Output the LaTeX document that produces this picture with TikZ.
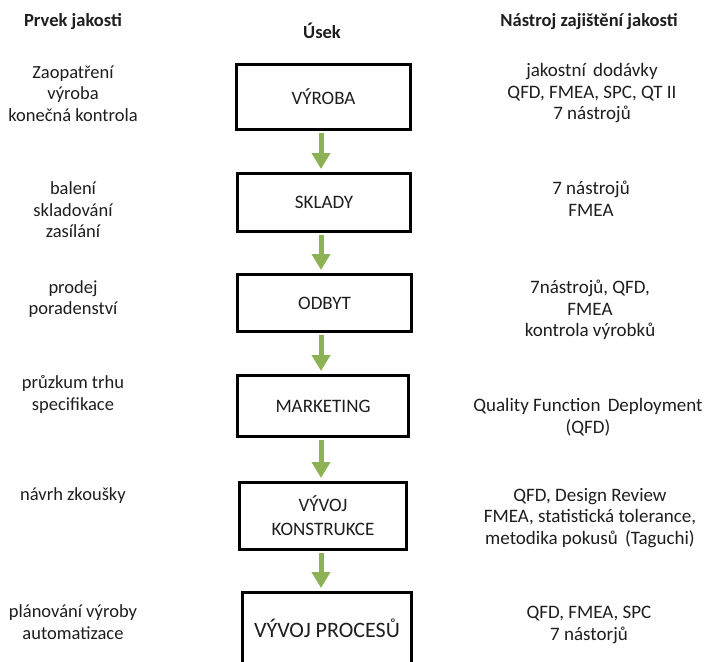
\documentclass[tikz,border=0pt]{standalone}
\usepackage{fontspec}
\setmainfont{Carlito}
\usetikzlibrary{arrows.meta}
\definecolor{flowgreen}{HTML}{8DB255}
\definecolor{ink}{HTML}{1E1E1E}

\begin{document}
\begin{tikzpicture}[x=1pt,y=-1pt,
  stage/.style={draw=black, line width=3pt, fill=white, inner sep=0pt, align=center,
    font=\fontsize{19}{24}\selectfont, text=ink},
  note/.style={align=center, inner sep=0pt, text=ink,
    font=\fontsize{18.5}{21.5}\selectfont},
  tool/.style={note, font=\fontsize{19}{21.5}\selectfont},
  head/.style={align=center, inner sep=0pt, text=ink,
    font=\bfseries\fontsize{18.5}{21.5}\selectfont},
  flow/.style={draw=flowgreen, line width=5pt,
    -{Triangle[width=18pt,length=16pt]}, shorten <=2pt, shorten >=3pt}
]
% page frame
\clip (0,0) rectangle (706,661);
\fill[white] (0,0) rectangle (706,661);

% column headings
\node[head] (hL) at (73,22)  {Prvek jakosti};
\node[head] (hM) at (322,31) {Úsek};
\node[head] (hR) at (589,22) {Nástroj zajištění jakosti};

% the chain of departments
\node[stage, minimum width=174pt, minimum height=65pt] (s1) at (323.5,97)  {VÝROBA};
\node[stage, minimum width=173pt, minimum height=58pt] (s2) at (324,202.5) {SKLADY};
\node[stage, minimum width=174pt, minimum height=57pt] (s3) at (324.5,303) {ODBYT};
\node[stage, minimum width=171pt, minimum height=61pt] (s4) at (323,406)   {MARKETING};
\node[stage, minimum width=167pt, minimum height=67pt] (s5) at (323,516)   {VÝVOJ\\KONSTRUKCE};
\node[stage, minimum width=169pt, minimum height=72pt,
      font=\fontsize{22}{26}\selectfont] (s6) at (327,628.5) {VÝVOJ PROCESŮ};

% flow between departments
\foreach \a/\b in {s1/s2, s2/s3, s3/s4, s4/s5, s5/s6}
  \draw[flow] (\a.south -| 321,0) -- (\b.north -| 321,0);

% quality elements (left column)
\node[note] (l1) at (73,93.5) {Zaopatření\\výroba\\konečná kontrola};
\node[note] (l2) at (73,210)  {balení\\skladování\\zasílání};
\node[note] (l3) at (73,299)  {prodej\\poradenství};
\node[note] (l4) at (73,394.5){průzkum trhu\\specifikace};
\node[note] (l5) at (73,496)  {návrh zkoušky};
\node[note] (l6) at (73,622)  {plánování výroby\\automatizace};

% quality tools (right column)
\node[tool] (r1) at (592,93.5) {jakostní\hspace{3pt} dodávky\\QFD, FMEA, SPC, QT II\\7 nástrojů};
\node[tool] (r2) at (591,199)  {7 nástrojů\\FMEA};
\node[tool] (r3) at (590,310)  {7nástrojů, QFD,\\FMEA\\kontrola výrobků};
\node[tool] (r4) at (588,417)  {Quality Function\hspace{3pt} Deployment\\(QFD)};
\node[tool] (r5) at (590,518)  {QFD, Design Review\\FMEA, statistická tolerance,\\metodika pokusů\hspace{3pt} (Taguchi)};
\node[tool] (r6) at (589,625)  {QFD, FMEA, SPC\\7 nástorjů};
\end{tikzpicture}
\end{document}
